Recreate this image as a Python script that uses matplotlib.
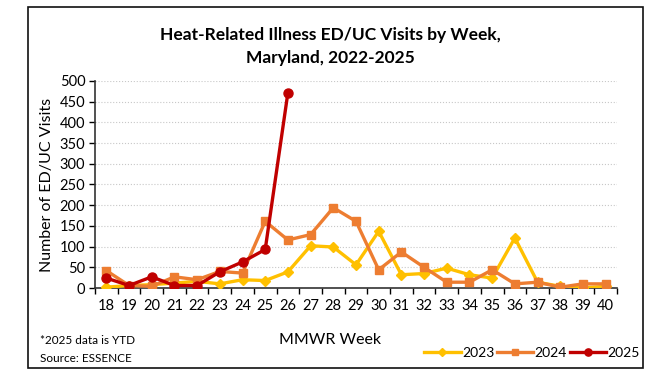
import numpy as np
import matplotlib
matplotlib.use("Agg")
import matplotlib.pyplot as plt
from matplotlib.patches import Rectangle

plt.rcParams["font.family"] = ["Lato", "DejaVu Sans"]

# ── Data ─────────────────────────────────────────────────────────
weeks = [18, 19, 20, 21, 22, 23, 24, 25, 26, 27, 28, 29,
         30, 31, 32, 33, 34, 35, 36, 37, 38, 39, 40]
visits_2023 = [2, 6, 8, 12, 16, 10, 20, 18, 39, 102, 99, 56,
               137, 32, 35, 48, 32, 24, 121, 14, 4, 0, 4]
visits_2024 = [42, 6, 4, 27, 20, 40, 36, 161, 116, 129, 194, 161,
               44, 87, 50, 14, 14, 44, 10, 14, 2, 10, 10]
visits_2025 = [24, 6, 27, 6, 6, 39, 63, 93, 472]

C23, C24, C25 = "#FFC000", "#ED7D31", "#C00000"

fig = plt.figure(figsize=(6.58, 3.73), dpi=100)
ax = fig.add_axes([95 / 658, 1 - 288 / 373, 522 / 658, 207 / 373])

x_all = np.arange(len(weeks))
ax.plot(x_all, visits_2023, color=C23, lw=2.4, marker="D", ms=5,
        label="2023", zorder=3)
ax.plot(x_all, visits_2024, color=C24, lw=2.4, marker="s", ms=6,
        label="2024", zorder=4)
ax.plot(x_all[:len(visits_2025)], visits_2025, color=C25, lw=2.4,
        marker="o", ms=6.5, label="2025", zorder=5)

ax.set_xlim(-0.5, len(weeks) - 0.5)
ax.set_ylim(0, 500)
ax.set_yticks(np.arange(0, 501, 50))
ax.yaxis.grid(True, color="#c8c8c8", ls=":", lw=0.8)
ax.set_axisbelow(True)

ax.set_xticks(x_all)
ax.set_xticklabels([str(w) for w in weeks])
ax.set_xticks(np.arange(-0.5, len(weeks)), minor=True)
ax.tick_params(axis="x", which="major", length=0, pad=8, labelsize=10.5)
ax.tick_params(axis="x", which="minor", length=4, direction="out", width=1)
ax.tick_params(axis="y", length=4, width=1, labelsize=10.5, pad=3)

for s in ["top", "right"]:
    ax.spines[s].set_visible(False)
for s in ["left", "bottom"]:
    ax.spines[s].set_linewidth(1.2)
    ax.spines[s].set_color("#333333")

ax.set_ylabel("Number of ED/UC Visits", fontsize=11.5, labelpad=4)
fig.text(330 / 658, 1 - 340 / 373, "MMWR Week", ha="center", va="center",
         fontsize=11.5)

fig.text(330 / 658, 1 - 35 / 373, "Heat-Related Illness ED/UC Visits by Week,",
         ha="center", va="center", fontsize=12.5, fontweight="bold")
fig.text(330 / 658, 1 - 58 / 373, "Maryland, 2022-2025",
         ha="center", va="center", fontsize=12.5, fontweight="bold")

fig.text(40 / 658, 1 - 341 / 373, "*2025 data is YTD", ha="left",
         va="center", fontsize=8.5)
fig.text(40 / 658, 1 - 358 / 373, "Source: ESSENCE", ha="left",
         va="center", fontsize=8.5)

fig.legend(loc="center right", bbox_to_anchor=(645 / 658, 1 - 353 / 373),
           ncol=3, frameon=False, fontsize=10, handlelength=2.6,
           handletextpad=0.1, columnspacing=0.2, borderaxespad=0,
           markerscale=0.8)

fig.patches.append(Rectangle((28 / 658, 5 / 373), 615 / 658, 361 / 373,
                             transform=fig.transFigure, fill=False,
                             edgecolor="#111111", lw=1.2))

fig.savefig("out.png", dpi=100)
